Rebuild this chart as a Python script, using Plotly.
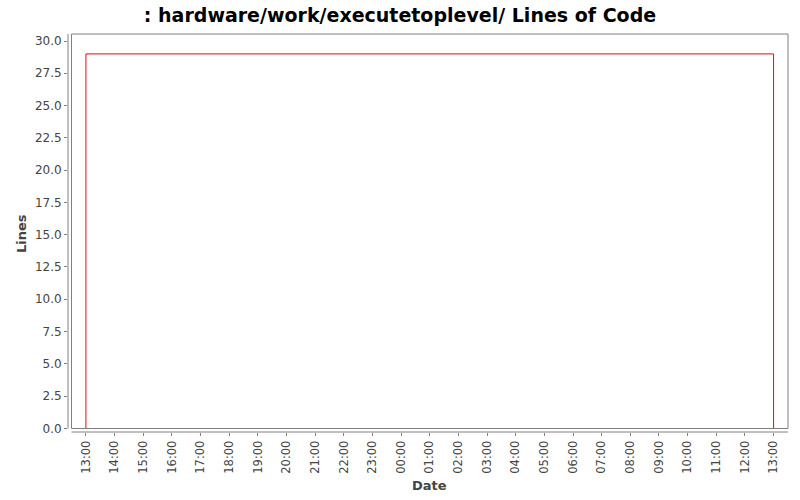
import plotly.graph_objects as go
import pandas as pd

# Data
dates = ["2010-01-01 13:00", "2010-01-01 13:00", "2010-01-02 13:00", "2010-01-02 13:00"]
lines = [0, 29, 29, 0]
y_ticks = [0, 2.5, 5, 7.5, 10, 12.5, 15, 17.5, 20, 22.5, 25, 27.5, 30]

W, H = 800, 500
# pixel geometry
ax_left, ax_right = 68, 788           # y-axis line x .. plot right
ax_top, ax_bottom = 34, 432           # plot top .. x-axis line y
plot_left, plot_bottom = 71.5, 428.5  # plot-area border
x0_px, x1_px = 86.0, 773.5            # first / last 13:00
y0_px, y30_px = 428.3, 41.0           # value 0 / 30

t0 = pd.Timestamp(dates[0])
t1 = pd.Timestamp(dates[-1])
ms_per_px = (t1 - t0) / (x1_px - x0_px)
xr0 = t0 - ms_per_px * (x0_px - ax_left)
xr1 = t1 + ms_per_px * (ax_right - x1_px)
u_per_px = 30 / (y0_px - y30_px)
yr0 = 0 - u_per_px * (ax_bottom - y0_px)
yr1 = 30 + u_per_px * (y30_px - ax_top)

pw = ax_right - ax_left
ph = ax_bottom - ax_top

def px_x(p):
    return (p - ax_left) / pw

def px_y(p):
    return (ax_bottom - p) / ph

fig = go.Figure()
fig.add_trace(go.Scatter(
    x=dates, y=lines, mode="lines",
    line=dict(color="#ff0000", width=1),
    showlegend=False, hoverinfo="skip",
))

grey = "#808080"
shapes = [
    dict(type="rect", xref="paper", yref="paper",
         x0=px_x(plot_left), x1=1, y0=px_y(plot_bottom), y1=1,
         line=dict(color=grey, width=1), fillcolor="rgba(0,0,0,0)", layer="below"),
    dict(type="line", xref="paper", yref="paper",
         x0=0, x1=0, y0=px_y(plot_bottom), y1=1,
         line=dict(color=grey, width=1)),
    dict(type="line", xref="paper", yref="paper",
         x0=px_x(plot_left), x1=1, y0=0, y1=0,
         line=dict(color=grey, width=1)),
]

font_family = "DejaVu Sans, Lato, sans-serif"
annotations = [
    dict(text="<b>Date</b>", xref="paper", yref="paper",
         x=px_x(429), y=px_y(485), xanchor="center", yanchor="middle",
         showarrow=False, font=dict(family=font_family, size=13, color="#444444")),
    dict(text="<b>Lines</b>", xref="paper", yref="paper",
         x=px_x(22), y=px_y(234), xanchor="center", yanchor="middle", textangle=-90,
         showarrow=False, font=dict(family=font_family, size=13, color="#444444")),
]

fig.update_layout(
    width=W, height=H,
    margin=dict(l=ax_left, r=W - ax_right, t=ax_top, b=H - ax_bottom, pad=0, autoexpand=False),
    paper_bgcolor="white", plot_bgcolor="white",
    title=dict(text=": hardware/work/executetoplevel/ Lines of Code",
               x=0.5, xanchor="center", y=1 - 15 / H, yanchor="middle",
               font=dict(family=font_family, size=19, color="black", weight="bold")),
    shapes=shapes,
    annotations=annotations,
    xaxis=dict(
        type="date", range=[xr0, xr1], showgrid=False, zeroline=False, showline=False,
        automargin=False,
        tickformat="%H:%M", dtick=3600000, tick0=dates[0],
        ticks="outside", ticklen=3, tickcolor=grey, tickangle=-90,
        tickfont=dict(family=font_family, size=11.5, color="#444444"),
    ),
    yaxis=dict(
        range=[yr0, yr1], showgrid=False, zeroline=False, showline=False,
        automargin=False,
        tickvals=y_ticks, tickformat=".1f",
        ticks="outside", ticklen=3, tickcolor=grey,
        tickfont=dict(family=font_family, size=12, color="#444444"),
    ),
)

fig.write_html("out.html", config={"displayModeBar": False},
               post_script="document.body.style.margin='0';document.body.style.overflow='hidden';")
